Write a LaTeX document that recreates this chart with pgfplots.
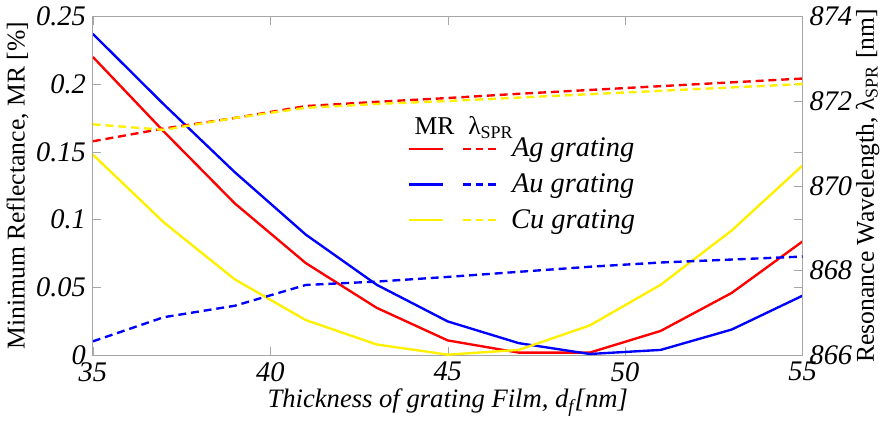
\documentclass[border=0pt]{standalone}
\usepackage{fontspec}
\setmainfont{LiberationSerif}[Extension=.ttf, UprightFont=*-Regular, ItalicFont=*-Italic, BoldFont=*-Bold, BoldItalicFont=*-BoldItalic]
\usepackage{pgfplots}
\pgfplotsset{compat=1.18}

\definecolor{cuyel}{RGB}{255,240,0}

\pgfplotstableread{
d    ag     au     cu
35   0.220  0.237  0.148
37   0.165  0.185  0.098
39   0.112  0.135  0.056
41   0.068  0.089  0.026
43   0.035  0.052  0.008
45   0.011  0.025  0.0005
47   0.002  0.009  0.004
49   0.002  0.001  0.022
51   0.018  0.004  0.052
53   0.046  0.019  0.092
55   0.084  0.044  0.140
}\mrdata

\pgfplotstableread{
d    ag      au      cu
35   871.05  866.33  871.45
37   871.35  866.90  871.32
39   871.60  867.17  871.60
41   871.88  867.66  871.84
43   871.98  867.74  871.93
45   872.07  867.85  872.00
47   872.17  867.97  872.08
49   872.26  868.09  872.16
51   872.35  868.19  872.24
53   872.44  868.26  872.32
55   872.53  868.33  872.40
}\lamdata

\begin{document}
\begin{tikzpicture}[font=\fontsize{13}{15}\selectfont]
\pgfplotsset{
  every axis/.append style={
    scale only axis, width=360pt, height=172pt,
    xmin=35, xmax=55, xtick={35,40,45,50,55},
    tick align=inside,
    axis line style={gray!70}, tick style={gray!70},
    /pgf/number format/assume math mode=true,
    ticklabel style={font=\Large\itshape},
    label style={font=\fontsize{13}{15}\selectfont},
  },
  mr/.style={line width=1.2pt},
  lam/.style={line width=1.2pt, dash pattern=on 4pt off 2.5pt},
}
\begin{axis}[
  ymin=0, ymax=0.25,
  ytick={0,0.05,0.1,0.15,0.2,0.25},
  scaled y ticks=false,
  yticklabel style={/pgf/number format/fixed, /pgf/number format/precision=2},
  xticklabel pos=bottom, yticklabel pos=left,
  xlabel={\textit{Thickness of grating Film, d\textsubscript{f}[nm]}},
  xlabel style={font=\fontsize{13.5}{16}\selectfont, yshift=3pt},
  ylabel={Minimum Reflectance, MR [\%]},
  ylabel shift=-3pt,
]
\addplot[mr, red]    table[x=d, y=ag] {\mrdata};
\addplot[mr, blue]   table[x=d, y=au] {\mrdata};
\addplot[mr, cuyel]  table[x=d, y=cu] {\mrdata};
\end{axis}

\begin{axis}[
  ymin=866, ymax=874,
  ytick={866,868,870,872,874},
  axis x line=none, axis y line*=right,
  ylabel={Resonance Wavelength, λ\textsubscript{SPR} [nm]},
  ylabel shift=-5pt,
  legend columns=2,
  legend style={draw=none, fill=none, at={(0.435,0.665)}, anchor=north west,
    font=\Large\itshape, row sep=3pt,
    /tikz/every odd column/.append style={column sep=5pt}},
  legend image code/.code={\draw[#1] (0pt,0pt) -- (17pt,0pt);},
]
\addplot[lam, red, forget plot]   table[x=d, y=ag] {\lamdata};
\addplot[lam, blue, forget plot]  table[x=d, y=au] {\lamdata};
\addplot[lam, cuyel, forget plot] table[x=d, y=cu] {\lamdata};
\addlegendimage{mr, red}\addlegendentry{}
\addlegendimage{lam, red}\addlegendentry{Ag grating}
\addlegendimage{mr, blue}\addlegendentry{}
\addlegendimage{lam, blue}\addlegendentry{Au grating}
\addlegendimage{mr, cuyel}\addlegendentry{}
\addlegendimage{lam, cuyel}\addlegendentry{Cu grating}
\node[anchor=south west, inner sep=1pt] at (rel axis cs:0.45,0.632) {MR\hspace{7pt}λ\textsubscript{SPR}};
\end{axis}
\end{tikzpicture}
\end{document}
